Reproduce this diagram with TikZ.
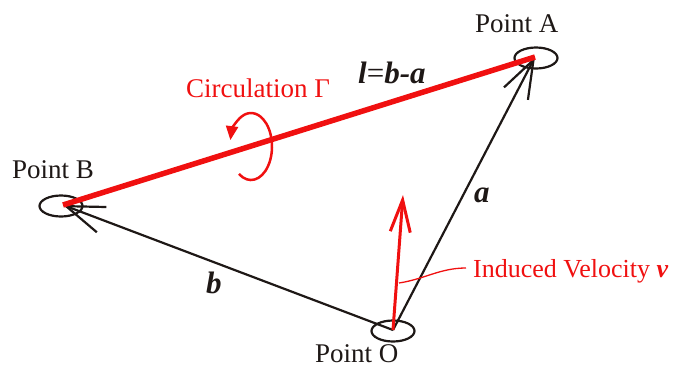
\documentclass[tikz,border=0pt]{standalone}
\usepackage{fontspec}
\setmainfont{Liberation Serif}
\usetikzlibrary{arrows.meta,shapes.geometric}
\definecolor{ink}{RGB}{30,24,22}
\definecolor{rd}{RGB}{240,16,16}
\tikzset{
  pt/.style={draw=ink, line width=2.2pt, ellipse, minimum width=43pt, minimum height=21pt, inner sep=0pt},
  lbl/.style={font=\fontsize{27}{32}\selectfont, inner sep=0pt, text=ink, anchor=base west},
  vlbl/.style={font=\fontsize{31}{36}\selectfont, inner sep=0pt, text=ink, anchor=base west},
  rlbl/.style={font=\fontsize{27}{32}\selectfont, inner sep=0pt, text=rd, anchor=base west},
  vec/.style={draw=ink, line width=2.2pt, -{Straight Barb[length=38pt,width=27pt,line width=2.2pt]}},
  redvec/.style={draw=rd, line width=3pt, -{Straight Barb[length=32pt,width=20pt,line width=3pt]}},
}
\begin{document}
\begin{tikzpicture}[x=1pt,y=-1pt]
\useasboundingbox (0,0) rectangle (675,368);
% points
\node[pt] (A) at (536,58) {};
\node[pt] (B) at (61,206) {};
\node[pt] (O) at (393,331) {};
\coordinate (Ot) at (393,330);
\coordinate (At) at (535,57);
\coordinate (Bt) at (63,205);
% labels
\node[lbl] (LA) at (475,32) {Point A};
\node[lbl] (LB) at (12,178) {Point B};
\node[lbl] (LO) at (315,362) {Point O};
% vectors
\draw[vec] (Ot) -- (At);
\draw[vec] (Ot) -- (Bt);
% red line l
\draw[rd, line width=5.5pt] (Bt) -- (At);
% labels of vectors
\node[vlbl] (la) at (358,83) {\textbf{\textit{l}}=\textbf{\textit{b-a}}};
\node[vlbl] (aa) at (474,202) {\textbf{\textit{a}}};
\node[vlbl] (bb) at (206,293) {\textbf{\textit{b}}};
% circulation
\node[rlbl] (C) at (186,97) {Circulation Γ};
\draw[rd, line width=2.5pt, -{Triangle[length=14pt,width=12pt]}]
  (251,146.5) ++(125:21 and 33.5) arc[start angle=125, end angle=-169, x radius=21, y radius=33.5];
% induced velocity
\coordinate (Vt) at (403,195);
\draw[redvec] (Ot) -- (Vt);
\coordinate (V1) at (399,283);
\node[rlbl, font=\fontsize{26}{31}\selectfont] (IV) at (473,277) {Induced Velocity \textbf{\textit{v}}};
\draw[rd, line width=1.3pt] (V1) .. controls (425,279) and (440,268) .. (466,268);
\end{tikzpicture}
\end{document}
